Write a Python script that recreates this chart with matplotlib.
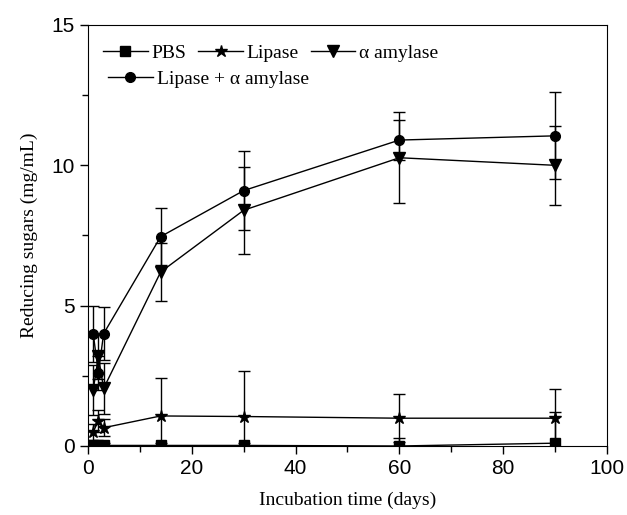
import numpy as np
import matplotlib.pyplot as plt
from matplotlib.lines import Line2D
from matplotlib.ticker import MultipleLocator

# incubation days
days = [1, 2, 3, 14, 30, 60, 90]

# reducing sugars (mg/mL)
pbs = [0.02, 0.02, 0.02, 0.02, 0.02, 0.0, 0.1]
pbs_err = [0.1, 0.1, 0.1, 0.1, 0.1, 0.3, 1.1]
lipase = [0.5, 0.9, 0.65, 1.07, 1.05, 0.99, 0.99]
lipase_err = [0.3, 0.4, 0.3, 1.34, 1.63, 0.85, 1.05]
amylase = [2.0, 3.2, 2.05, 6.2, 8.4, 10.27, 10.0]
amylase_err = [0.9, 0.8, 0.9, 1.03, 1.55, 1.62, 1.4]
mix = [4.0, 2.6, 4.0, 7.46, 9.1, 10.9, 11.05]
mix_err = [1.0, 0.6, 0.95, 1.02, 1.4, 0.7, 1.55]

plt.rcParams['font.family'] = 'Liberation Serif'

fig = plt.figure(figsize=(6.27, 5.15), dpi=100)
ax = fig.add_axes([0.1404, 0.134, 0.8276, 0.8175])

series = [
    (pbs, pbs_err, 's', 7, 'PBS'),
    (lipase, lipase_err, '*', 9, 'Lipase'),
    (amylase, amylase_err, 'v', 8, '\u03b1 amylase'),
    (mix, mix_err, 'o', 7, 'Lipase + \u03b1 amylase'),
]
handles = []
for vals, errs, mk, ms, name in series:
    ax.errorbar(days, vals, yerr=errs, marker=mk, ms=ms, color='black', lw=1.0,
                elinewidth=1.0, capsize=4, capthick=1.0)
    handles.append(Line2D([], [], color='black', lw=1.0, marker=mk, ms=ms, label=name))

ax.set_xlim(0, 100)
ax.set_ylim(0, 15)
ax.xaxis.set_major_locator(MultipleLocator(20))
ax.xaxis.set_minor_locator(MultipleLocator(10))
ax.yaxis.set_major_locator(MultipleLocator(5))
ax.yaxis.set_minor_locator(MultipleLocator(2.5))
ax.tick_params(which='major', direction='out', length=6, width=1)
ax.tick_params(which='minor', direction='out', length=4, width=1)
for lab in ax.get_xticklabels() + ax.get_yticklabels():
    lab.set_family('Liberation Sans')
    lab.set_fontsize(15)

ax.set_xlabel('Incubation time (days)', fontsize=14, labelpad=10)
ax.set_ylabel('Reducing sugars (mg/mL)', fontsize=14, labelpad=10)

# legend: first row three entries, second row the mixture
leg_kw = dict(frameon=False, fontsize=14, handlelength=2.3, handletextpad=0.2,
              columnspacing=0.6, borderpad=0, borderaxespad=0, loc='center left')
leg1 = ax.legend(handles=handles[:3], ncol=3, bbox_to_anchor=(0.029, 0.933), **leg_kw)
ax.add_artist(leg1)
ax.legend(handles=handles[3:], bbox_to_anchor=(0.0385, 0.872), **leg_kw)

fig.savefig('out.png', dpi=100)
